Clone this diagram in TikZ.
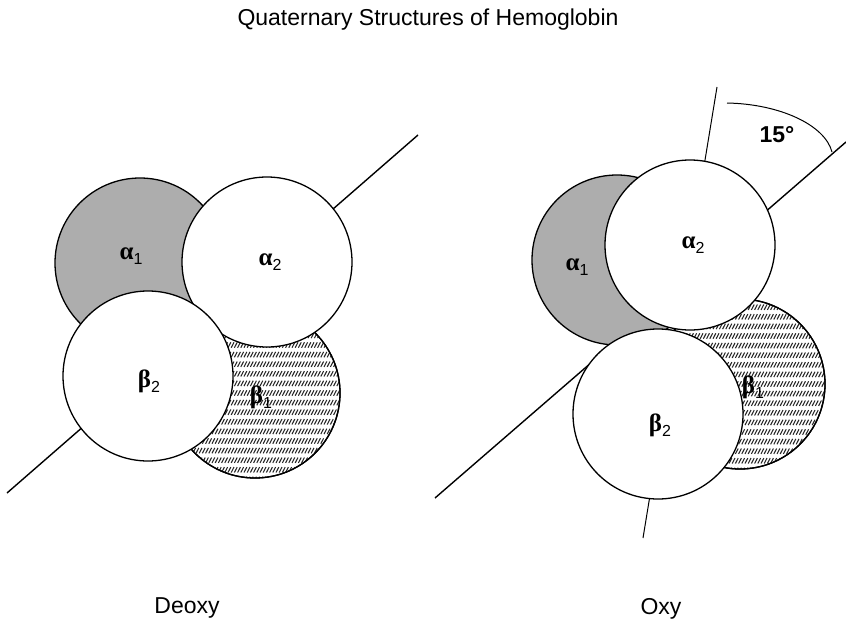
\documentclass[tikz,border=0pt]{standalone}
\usepackage{fontspec}
\setmainfont{Liberation Sans}
\newfontfamily\greekfont{Liberation Serif}
\newcommand{\glab}[2]{{\greekfont\bfseries #1}\raisebox{-0.22em}{\fontsize{16}{17}\selectfont #2}}
\begin{document}
\begin{tikzpicture}[x=1pt,y=-1pt,
  sub/.style={draw=black, line width=1.3pt, circle, minimum size=170pt, inner sep=0pt},
  whitesub/.style={sub, fill=white},
  graysub/.style={sub, fill=black!32},
  axisline/.style={line width=1.4pt},
  thinaxis/.style={line width=1pt},
  hatchline/.style={line width=1.05pt, black!85},
  glabel/.style={font=\fontsize{25}{27}\selectfont, inner sep=0pt},
  caption/.style={font=\fontsize{23}{27}\selectfont, anchor=base, inner sep=0pt}]
\useasboundingbox (0,0) rectangle (846,621);
\fill[white] (0,0) rectangle (846,621);

% title
\node[caption] (title) at (428,25) {Quaternary Structures of Hemoglobin};

% ---------------- Deoxy ----------------
\coordinate (dl1) at (7,493);
\coordinate (dl2) at (418,135);
\draw[axisline] (dl1) -- (dl2);

\node[graysub] (da1) at (140,263) {};
\node[whitesub] (db1) at (255,393) {};
\begin{scope}[shift={(255,393)}]
  \clip (0,0) circle (85);
  \foreach \r in {-9,...,9} {
    \draw[hatchline] foreach \c in {-30,...,30} {(\c*3.2-1.4, \r*9.6+2.7) -- ++(2.8,-5.4)};
  }
\end{scope}
\node[sub] (db1o) at (255,393) {};
\node[whitesub] (da2) at (267,262) {};
\node[whitesub] (db2) at (148,376) {};

\node[glabel] (la1) at (131,256) {\glab{α}{1}};
\node[glabel] (la2) at (270,262) {\glab{α}{2}};
\node[glabel] (lb2) at (149,381) {\glab{β}{2}};
\node[glabel] (lb1) at (261,397) {\glab{β}{1}};

\node[caption] (deoxy) at (187,613) {Deoxy};

% ---------------- Oxy ----------------
\coordinate (ol1) at (435,498);
\coordinate (ol2) at (846,142);
\coordinate (ot1) at (717,87);
\coordinate (ot2) at (643,538);
\draw[axisline] (ol1) -- (ol2);
\draw[thinaxis] (ot1) -- (ot2);

\node[graysub] (oa1) at (617,260) {};
\node[whitesub] (ob1) at (740,384) {};
\begin{scope}[shift={(740,384)}]
  \clip (0,0) circle (85);
  \foreach \r in {-9,...,9} {
    \draw[hatchline] foreach \c in {-30,...,30} {(\c*3.2-1.4, \r*9.6+2.7) -- ++(2.8,-5.4)};
  }
\end{scope}
\node[sub] (ob1o) at (740,384) {};
\node[whitesub] (oa2) at (690,245) {};
\node[whitesub] (ob2) at (658,414) {};

\node[glabel] (oa1l) at (577,267) {\glab{α}{1}};
\node[glabel] (oa2l) at (693,245) {\glab{α}{2}};
\node[glabel] (ob2l) at (660,425) {\glab{β}{2}};
\node[glabel] (ob1l) at (753,387) {\glab{β}{1}};

% angle arc
\coordinate (arcs) at (727,103);
\coordinate (arce) at (832,152);
\draw[thinaxis] (arcs) .. controls (780,104) and (825,125) .. (arce);
\node[font=\bfseries\fontsize{23}{27}\selectfont, inner sep=0pt] (ang) at (777,135) {15°};

\node[caption] (oxy) at (661,614) {Oxy};
\end{tikzpicture}
\end{document}
